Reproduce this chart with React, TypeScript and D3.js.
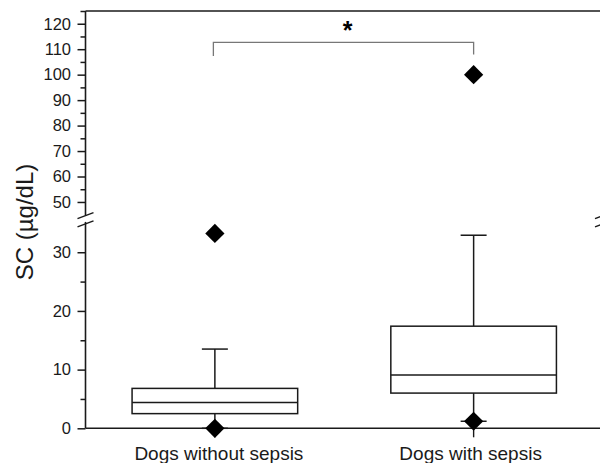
import { useEffect, useRef } from 'react'
import * as d3 from 'd3'

// box summary per group (µg/dL)
const categories = ['Dogs without sepsis', 'Dogs with sepsis']
const q1 = [2.5, 6.0]
const median = [4.4, 9.1]
const q3 = [6.8, 17.4]
const whiskerLow = [0, 1.2]
const whiskerHigh = [13.5, 32.9]
const minValues = [0, 1.2]
const maxValues = [33.2, 100]

// axis ticks for the two segments of the broken axis
const lowTicks = [0, 10, 20, 30]
const lowMinor = [5, 15, 25]
const highTicks = [50, 60, 70, 80, 90, 100, 110, 120]
const highMinor = [55, 65, 75, 85, 95, 105, 115, 125]

// significance bracket (on the upper segment)
const bracketTop = 112.7
const bracketFoot = 107.3
const bracketLabel = '*'

export default function App() {
  const svgRef = useRef<SVGSVGElement>(null)

  useEffect(() => {
    if (!svgRef.current) return
    const svg = d3.select(svgRef.current)
    svg.selectAll('*').remove()

    const left = 85.5
    const right = 603
    const top = 11
    const bottom = 428.3
    const breakTop = 214.7
    const breakBottom = 222.9
    const ink = '#1a1a1a'
    const font = '"Liberation Sans", Arial, sans-serif'

    const x = d3.scaleBand().domain(categories).range([left, right])
    const yLow = d3.scaleLinear().domain([0, 35]).range([bottom, breakBottom])
    const yHigh = d3.scaleLinear().domain([45, 125]).range([breakTop, top])
    const yOf = (v: number) => (v <= 35 ? yLow(v) : yHigh(v))
    const cx = (i: number) => x(categories[i])! + x.bandwidth() / 2
    const boxW = x.bandwidth() * 0.64
    const capW = 26

    const g = svg.append('g')

    // axes
    const styleAxis = (sel: d3.Selection<SVGGElement, unknown, null, undefined>) => {
      sel.select('.domain').remove()
      sel.selectAll('.tick line').attr('stroke', ink).attr('stroke-width', 1.5)
      sel.selectAll('.tick text')
        .attr('font-family', font)
        .attr('font-size', 16.5)
        .attr('fill', ink)
    }
    const ax = (scale: d3.ScaleLinear<number, number>, ticks: number[], size: number, label: boolean) =>
      g.append('g')
        .attr('transform', `translate(${left},0)`)
        .call(
          d3.axisLeft(scale)
            .tickValues(ticks)
            .tickSize(size)
            .tickPadding(6.5)
            .tickFormat(d => (label ? String(d) : ''))
        )
        .call(styleAxis)

    ax(yLow, lowTicks, 8, true)
    ax(yLow, lowMinor, 5, false)
    ax(yHigh, highTicks, 8, true)
    ax(yHigh, highMinor, 5, false)

    // frame lines
    const line = (x1: number, y1: number, x2: number, y2: number, w = 1.6) =>
      g.append('line')
        .attr('x1', x1).attr('y1', y1).attr('x2', x2).attr('y2', y2)
        .attr('stroke', ink).attr('stroke-width', w)

    line(left, top, right, top)
    line(left, bottom, right, bottom)
    ;[left, right].forEach(xx => {
      line(xx, top, xx, breakTop + 1)
      line(xx, breakBottom - 1, xx, bottom)
      // break marks
      line(xx - 8, breakTop + 4, xx + 8, breakTop - 2, 1.4)
      line(xx - 8, breakBottom + 4, xx + 8, breakBottom - 2, 1.4)
    })

    // category ticks + labels
    categories.forEach((c, i) => {
      line(cx(i), bottom, cx(i), bottom + 9, 1.4)
      g.append('text')
        .attr('x', cx(i) + (i === 0 ? 4 : -3))
        .attr('y', 460)
        .attr('text-anchor', 'middle')
        .attr('font-family', font)
        .attr('font-size', 19)
        .attr('fill', ink)
        .text(c)
    })

    // boxes
    categories.forEach((_, i) => {
      const c = cx(i)
      line(c, yOf(q3[i]), c, yOf(whiskerHigh[i]), 1.5)
      line(c, yOf(q1[i]), c, yOf(whiskerLow[i]), 1.5)
      line(c - capW / 2, yOf(whiskerHigh[i]), c + capW / 2, yOf(whiskerHigh[i]), 1.5)
      line(c - capW / 2, yOf(whiskerLow[i]), c + capW / 2, yOf(whiskerLow[i]), 1.5)
      g.append('rect')
        .attr('x', c - boxW / 2)
        .attr('y', yOf(q3[i]))
        .attr('width', boxW)
        .attr('height', yOf(q1[i]) - yOf(q3[i]))
        .attr('fill', 'white')
        .attr('stroke', ink)
        .attr('stroke-width', 1.5)
      line(c - boxW / 2, yOf(median[i]), c + boxW / 2, yOf(median[i]), 1.5)
    })

    // min / max diamonds
    const diamond = d3.symbol(d3.symbolSquare, 185)()
    const pts = categories.flatMap((_, i) => [
      { i, v: minValues[i] },
      { i, v: maxValues[i] }
    ])
    g.selectAll('.mm')
      .data(pts)
      .enter()
      .append('path')
      .attr('class', 'mm')
      .attr('d', diamond)
      .attr('transform', d => `translate(${cx(d.i)},${yOf(d.v)}) rotate(45)`)
      .attr('fill', '#000')

    // significance bracket
    const bx1 = cx(0) - 1.5
    const bx2 = cx(1)
    g.append('path')
      .attr('d', `M${bx1},${yHigh(bracketFoot)}V${yHigh(bracketTop)}H${bx2}V${yHigh(bracketFoot) - 1.5}`)
      .attr('fill', 'none')
      .attr('stroke', '#777')
      .attr('stroke-width', 1.3)
    g.append('text')
      .attr('x', (bx1 + bx2) / 2 + 4)
      .attr('y', 39)
      .attr('text-anchor', 'middle')
      .attr('font-family', font)
      .attr('font-weight', 'bold')
      .attr('font-size', 25)
      .attr('fill', '#000')
      .text(bracketLabel)

    // y title
    g.append('text')
      .attr('transform', 'translate(33,222) rotate(-90)')
      .attr('text-anchor', 'middle')
      .attr('font-family', font)
      .attr('font-size', 24)
      .attr('fill', ink)
      .text('SC (µg/dL)')
  }, [])

  return (
    <svg
      ref={svgRef}
      width={600}
      height={463}
      style={{ position: 'absolute', left: 0, top: 0, background: '#fff' }}
    />
  )
}
